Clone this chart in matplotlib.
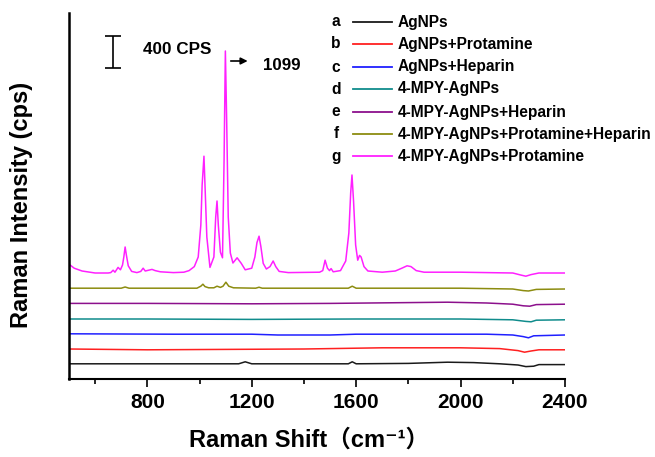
import matplotlib
matplotlib.use('Agg')
import matplotlib.pyplot as plt
from matplotlib.lines import Line2D
from matplotlib.ticker import MultipleLocator

# Raman spectra (intensity in cps above each curve's own baseline)
labels = ['AgNPs', 'AgNPs+Protamine', 'AgNPs+Heparin', '4-MPY-AgNPs',
          '4-MPY-AgNPs+Heparin', '4-MPY-AgNPs+Protamine+Heparin',
          '4-MPY-AgNPs+Protamine']
letters = ['a', 'b', 'c', 'd', 'e', 'f', 'g']
colors = ['#1a1a1a', '#ff2020', '#2020ff', '#108c8c', '#8c108c', '#8c8c10', '#ff20ff']
offsets = [190, 375, 560, 750, 945, 1135, 1325]

a_shift = [500, 900, 1150, 1175, 1200, 1400, 1570, 1585, 1600, 1800, 1950, 2050,
           2150, 2220, 2250, 2280, 2300, 2400]
a_counts = [0, 0, 0, 25, 0, 0, 0, 25, 0, 5, 20, 15, 0, -15, -35, -30, -10, -10]

b_shift = [500, 800, 1100, 1400, 1700, 2000, 2150, 2220, 2245, 2270, 2300, 2400]
b_counts = [0, -10, -5, 0, 15, 15, 5, -20, -40, -25, -10, -10]

c_shift = [500, 900, 1200, 1300, 1500, 1600, 1800, 2100, 2200, 2240, 2260, 2280, 2400]
c_counts = [5, 0, 0, -10, -10, 0, 0, 0, -10, -30, -45, -20, -10]

d_shift = [500, 800, 1200, 1600, 2000, 2200, 2250, 2270, 2290, 2400]
d_counts = [0, 0, -5, 0, 0, -10, -30, -35, -15, -10]

e_shift = [500, 800, 1200, 1500, 1800, 1950, 2100, 2200, 2240, 2265, 2290, 2400]
e_counts = [0, 0, -5, 0, 10, 15, 5, -10, -30, -35, -15, -10]

f_shift = [500, 700, 715, 730, 990, 1005, 1013, 1021, 1035, 1055, 1067, 1080,
           1090, 1101, 1112, 1130, 1215, 1228, 1240, 1570, 1585, 1600, 2000,
           2200, 2240, 2260, 2290, 2400]
f_counts = [0, 0, 15, 0, 0, 25, 50, 20, 5, 5, 25, 10, 25, 75, 25, 5, 0, 12, 0,
            0, 25, 0, 0, -10, -30, -35, -15, -10]

g_shift = [500, 520, 550, 600, 650, 660, 669, 676, 688, 697, 705, 710, 715, 720,
           727, 740, 760, 775, 784, 792, 805, 818, 830, 850, 900, 940, 960, 980,
           995, 1005, 1010, 1017, 1022, 1028, 1040, 1055, 1062, 1067, 1072, 1080,
           1088, 1094, 1099, 1104, 1110, 1118, 1128, 1144, 1160, 1175, 1200, 1212,
           1220, 1228, 1235, 1244, 1256, 1270, 1282, 1292, 1305, 1340, 1460, 1472,
           1481, 1490, 1498, 1504, 1512, 1540, 1560, 1572, 1579, 1584, 1590, 1598,
           1606, 1613, 1619, 1630, 1645, 1700, 1750, 1775, 1795, 1810, 1830, 1860,
           2000, 2200, 2230, 2250, 2270, 2300, 2400]
g_counts = [110, 60, 25, 0, 0, 5, 35, 10, 70, 40, 100, 200, 325, 220,
            90, 20, 5, 20, 60, 25, 35, 45, 30, 15, 5, 10, 30, 80,
            200, 600, 1100, 1460, 1000, 450, 70, 200, 700, 900, 600, 260,
            190, 1400, 2775, 1900, 700, 250, 125, 190, 120, 40, 60, 200,
            380, 460, 330, 120, 50, 80, 150, 80, 20, 5, 10, 30,
            160, 60, 30, 55, 15, 30, 150, 500, 1000, 1225, 900, 350,
            160, 220, 200, 80, 25, 10, 25, 60, 90, 80, 30, 10,
            10, 0, -25, -40, -20, 0, 0]

spectra = [(a_shift, a_counts), (b_shift, b_counts), (c_shift, c_counts),
           (d_shift, d_counts), (e_shift, e_counts), (f_shift, f_counts),
           (g_shift, g_counts)]

W, H = 655, 457


def px(x, y):
    # pixel position (from top-left) to figure fraction
    return x / W, 1 - y / H


def main():
    plt.rcParams['font.family'] = ['Liberation Sans', 'Noto Sans CJK SC', 'DejaVu Sans']
    plt.rcParams['font.weight'] = 'bold'

    fig = plt.figure(figsize=(W / 100, H / 100), dpi=100)
    ax = fig.add_axes([69 / W, 78 / H, 496 / W, 366 / H])

    for (shift, counts), off, col in zip(spectra, offsets, colors):
        ax.plot(shift, [c + off for c in counts], color=col, lw=1.1)

    ax.set_xlim(500, 2400)
    ax.set_ylim(0, 4575)
    ax.xaxis.set_major_locator(MultipleLocator(400))
    ax.xaxis.set_minor_locator(MultipleLocator(200))
    ax.set_xticks([800, 1200, 1600, 2000, 2400])
    ax.set_yticks([])
    ax.tick_params(axis='x', which='major', length=6, width=1.2, labelsize=15, pad=4)
    ax.tick_params(axis='x', which='minor', length=3.5, width=1.2)
    for lab in ax.get_xticklabels():
        lab.set_fontweight('bold')
    ax.spines['top'].set_visible(False)
    ax.spines['right'].set_visible(False)
    ax.spines['left'].set_linewidth(1.8)
    ax.spines['bottom'].set_linewidth(1.5)

    ax.text(-0.095, 0.475, 'Raman Intensity (cps)', rotation=90, ha='center',
            va='center', fontsize=17, fontweight='bold', transform=ax.transAxes)
    ax.text(0.484, -0.135, 'Raman Shift（cm⁻¹）', ha='center', va='top',
            fontsize=17, fontweight='bold', transform=ax.transAxes)

    # 400 cps scale bar
    ax.errorbar([669], [4087], yerr=[200], color='black', capsize=5.5, lw=1.2,
                capthick=1.2)
    ax.text(783, 4125, '400 CPS', fontsize=12.3, fontweight='bold', va='center')

    ax.annotate('', xy=(1195, 3975), xytext=(1109, 3975),
                arrowprops=dict(arrowstyle='-|>', color='black', lw=1.2,
                                mutation_scale=10))
    ax.text(1243, 3925, '1099', fontsize=12.2, fontweight='bold', va='center')

    # legend drawn by hand
    rows = [22, 44, 67, 89, 112, 134, 156]
    for y, let, lab, col in zip(rows, letters, labels, colors):
        fig.text(*px(336, y), let, ha='center', va='center', fontsize=11.2,
                 fontweight='bold')
        fig.add_artist(Line2D([353 / W, 392 / W], [1 - y / H, 1 - y / H],
                              color=col, lw=1.3, transform=fig.transFigure))
        fig.text(*px(398, y), lab, ha='left', va='center', fontsize=11.2,
                 fontweight='bold')

    fig.savefig('out.png', dpi=100)


if __name__ == '__main__':
    main()
